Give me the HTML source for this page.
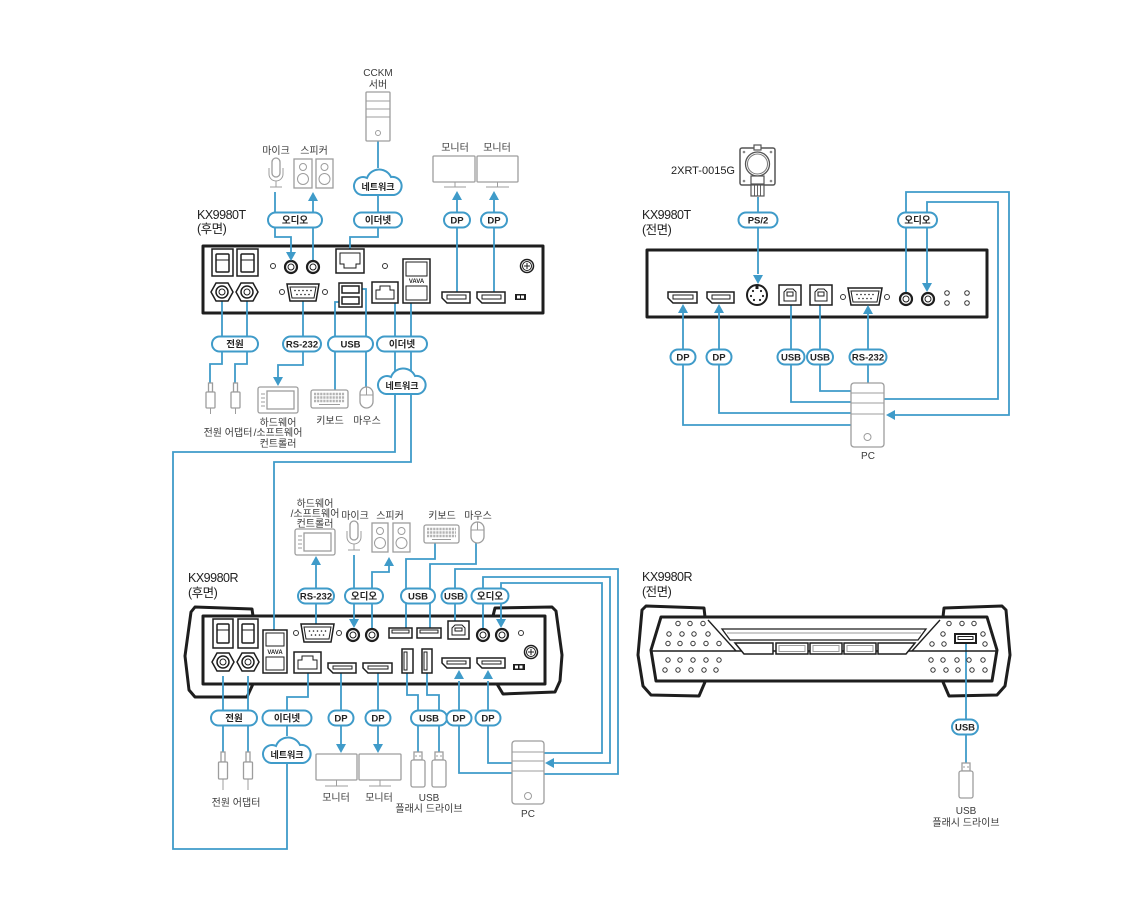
<!DOCTYPE html>
<html><head><meta charset="utf-8">
<style>
html,body{margin:0;padding:0;background:#fff;}
svg{display:block}
.b{stroke:#3f9bc9;stroke-width:1.8;fill:none}
.ah{fill:#3f9bc9;stroke:none}
.g{stroke:#9d9d9d;stroke-width:1.3;fill:#fff}
.gl{stroke:#9d9d9d;stroke-width:1;fill:none}
.kb{stroke:#b3b3b3;stroke-width:2.4;fill:none;stroke-dasharray:2.2,0.9}
.dev{stroke:#1e1e1e;stroke-width:3;fill:#fff;stroke-linejoin:round}
.d{stroke:#1e1e1e;stroke-width:1.5;fill:#fff}
.dn{stroke:#1e1e1e;stroke-width:1;fill:none}
.p{fill:#fff;stroke:#3f9bc9;stroke-width:2}
.pt{font-family:"Liberation Sans","Noto Sans CJK KR",sans-serif;font-size:9.5px;font-weight:bold;fill:#222;text-anchor:middle}
.lt{font-family:"Liberation Sans","Noto Sans CJK KR",sans-serif;font-size:10px;fill:#3a3a3a;text-anchor:middle}
.tt{font-family:"Liberation Sans","Noto Sans CJK KR",sans-serif;font-size:12.5px;fill:#222;letter-spacing:-0.5px}
.fc{fill:#fff;stroke:#333;stroke-width:1}
.jk{fill:#fff;stroke:#1e1e1e;stroke-width:2.2}
.dot{fill:#1e1e1e}
</style></head><body>
<svg width="1140" height="913" viewBox="0 0 1140 913">

<!-- ===== Device frames ===== -->
<rect class="dev" x="203" y="246" width="340" height="67"/>
<rect class="dev" x="647" y="250" width="340" height="67"/>
<path class="dev" d="M253,616 L252,609 L195,607 L191,612 L185,656 L189,690 L195,697 L247,697 L253,684"/>
<path class="dev" d="M493,616 L495,608 L552,607 L556,611 L562,655 L560,681 L555,692 L503,694 L497,684"/>
<rect class="dev" x="203" y="616" width="342" height="68"/>
<path class="dev" d="M705,617 L704,608 L646,606 L642,610 L638,655 L643,686 L651,695 L699,696 L705,682"/>
<path class="dev" d="M943,617 L944,608 L1002,606 L1006,610 L1010,655 L1005,686 L997,695 L949,696 L943,682"/>
<path class="dev" d="M661,617 H987 L997,650 L992,681 H656 L651,650 Z"/>

<!-- ===== Blue connectors ===== -->
<g class="b">
<path d="M378,141V168 M378,194V212 M378,228V237H350V249"/>
<path d="M275,192V237H291V252"/>
<path d="M313,261V200"/>
<path d="M457,292V200 M494,292V200"/>
<path d="M222,301V364H210V383 M247,301V364H235V383"/>
<path d="M303,301V365H278V377"/>
<path d="M342,302H335V390 M359,289H366V387"/>
<path d="M395,303V452H173V849H287V763 M411,303V462H274V630"/>
<path d="M758,197V274"/>
<path d="M683,313V425H851 M719,313V413H851"/>
<path d="M791,305V402H851 M820,305V391H851"/>
<path d="M868,383V314"/>
<path d="M906,293V192H1009V415H895 M927,283V202H998V399H884"/>
<path d="M316,624V565"/>
<path d="M354,555V619"/>
<path d="M372,629V572H389V566"/>
<path d="M406,628V559H435V543 M430,628V564H476V543"/>
<path d="M455,621V569H618V774H544"/>
<path d="M483,629V577H610V763H554"/>
<path d="M501,619V583H602V753H544"/>
<path d="M459,681V773H512 M488,681V763H512"/>
<path d="M223,676V752 M248,676V752"/>
<path d="M308,673V697H287V736"/>
<path d="M341,673V744 M378,673V744"/>
<path d="M407,673V695H418V752 M427,673V695H439V752"/>
<path d="M966,643V763"/>
</g>

<!-- ===== KX9980T rear ports ===== -->
<rect class="d" x="212" y="249" width="21" height="27"/><rect class="d" x="216" y="254" width="13" height="18" rx="1"/><line class="dn" x1="216" y1="260" x2="229" y2="260"/>
<rect class="d" x="237" y="249" width="21" height="27"/><rect class="d" x="241" y="254" width="13" height="18" rx="1"/><line class="dn" x1="241" y1="260" x2="254" y2="260"/>
<polygon class="d" points="211,292 216,283 228,283 233,292 228,301 216,301"/><circle class="d" cx="222" cy="292" r="6"/><circle class="dn" cx="222" cy="292" r="3"/>
<polygon class="d" points="236,292 241,283 253,283 258,292 253,301 241,301"/><circle class="d" cx="247" cy="292" r="6"/><circle class="dn" cx="247" cy="292" r="3"/>
<circle class="fc" cx="273" cy="266" r="2.5"/>
<circle class="jk" cx="291" cy="267" r="6"/><circle class="dn" cx="291" cy="267" r="3"/>
<circle class="jk" cx="313" cy="267" r="6"/><circle class="dn" cx="313" cy="267" r="3"/>
<rect class="d" x="336" y="249" width="28" height="24"/><path class="dn" d="M340,253 H360 V264 H356 V268 H344 V264 H340 Z"/>
<circle class="fc" cx="385" cy="266" r="2.5"/>
<rect class="d" x="403" y="259" width="27" height="44"/><rect class="dn" x="406" y="262" width="21" height="14"/><rect class="dn" x="406" y="286" width="21" height="14"/>
<text x="416.5" y="283" style="font:bold 6px 'Liberation Sans',sans-serif;text-anchor:middle;fill:#1e1e1e">VAVA</text>
<circle class="d" cx="527" cy="266" r="6.5"/><circle class="dn" cx="527" cy="266" r="4.5"/><path class="dn" d="M524,266H530M527,263V269"/>
<path class="d" d="M287,284 H319 L316,301 H290 Z"/><path class="dn" d="M290,287 H316 L314,298 H292 Z"/>
<g class="dot"><circle cx="295" cy="290.5" r="0.8"/><circle cx="299" cy="290.5" r="0.8"/><circle cx="303" cy="290.5" r="0.8"/><circle cx="307" cy="290.5" r="0.8"/><circle cx="311" cy="290.5" r="0.8"/><circle cx="297" cy="294.5" r="0.8"/><circle cx="301" cy="294.5" r="0.8"/><circle cx="305" cy="294.5" r="0.8"/><circle cx="309" cy="294.5" r="0.8"/></g>
<circle class="fc" cx="282" cy="292" r="2.5"/><circle class="fc" cx="325" cy="292" r="2.5"/>
<rect class="d" x="339" y="283" width="23" height="24"/><rect class="d" x="342" y="286" width="17" height="7"/><rect class="d" x="342" y="297" width="17" height="7"/>
<rect class="d" x="372" y="282" width="26" height="21"/><path class="dn" d="M376,290 H380 V286 H390 V290 H394 V299 H376 Z"/>
<path class="d" d="M442,292 H470 V303 H447 L442,298 Z"/><rect class="dn" x="447" y="295" width="19" height="4"/>
<path class="d" d="M477,292 H505 V303 H482 L477,298 Z"/><rect class="dn" x="482" y="295" width="19" height="4"/>
<rect x="515" y="294" width="11" height="6" fill="#1e1e1e"/><rect x="517" y="295.5" width="3" height="3" fill="#fff"/><rect x="521" y="295.5" width="3" height="3" fill="#fff"/>

<!-- ===== KX9980T front ports ===== -->
<path class="d" d="M668,292 H697 V303 H673 L668,298 Z"/><rect class="dn" x="673" y="295" width="20" height="4"/>
<path class="d" d="M707,292 H734 V303 H712 L707,298 Z"/><rect class="dn" x="712" y="295" width="18" height="4"/>
<circle cx="757" cy="295" r="10" fill="#fff" stroke="#1e1e1e" stroke-width="2"/>
<g class="dot"><circle cx="753" cy="291" r="1.1"/><circle cx="761" cy="291" r="1.1"/><circle cx="751" cy="296" r="1.1"/><circle cx="763" cy="296" r="1.1"/><circle cx="754" cy="300" r="1.1"/><circle cx="760" cy="300" r="1.1"/></g>
<rect x="755.5" y="286" width="3" height="3" fill="#1e1e1e"/>
<rect class="d" x="779" y="285" width="22" height="20"/><path class="dn" d="M784,301 V292 L787,289 H793 L796,292 V301 Z"/><rect class="dn" x="787" y="292" width="6" height="4"/>
<rect class="d" x="810" y="285" width="22" height="20"/><path class="dn" d="M815,301 V292 L818,289 H824 L827,292 V301 Z"/><rect class="dn" x="818" y="292" width="6" height="4"/>
<path class="d" d="M848,288 H882 L879,305 H851 Z"/><path class="dn" d="M851,291 H879 L877,302 H853 Z"/>
<g class="dot"><circle cx="857" cy="294.5" r="0.8"/><circle cx="861" cy="294.5" r="0.8"/><circle cx="865" cy="294.5" r="0.8"/><circle cx="869" cy="294.5" r="0.8"/><circle cx="873" cy="294.5" r="0.8"/><circle cx="859" cy="298.5" r="0.8"/><circle cx="863" cy="298.5" r="0.8"/><circle cx="867" cy="298.5" r="0.8"/><circle cx="871" cy="298.5" r="0.8"/></g>
<circle class="fc" cx="843" cy="297" r="2.5"/><circle class="fc" cx="887" cy="297" r="2.5"/>
<circle class="jk" cx="906" cy="299" r="6"/><circle class="dn" cx="906" cy="299" r="3"/>
<circle class="jk" cx="928" cy="299" r="6"/><circle class="dn" cx="928" cy="299" r="3"/>
<circle class="fc" cx="947" cy="293" r="2.3"/><circle class="fc" cx="947" cy="303" r="2.3"/><circle class="fc" cx="967" cy="293" r="2.3"/><circle class="fc" cx="967" cy="303" r="2.3"/>

<!-- ===== KX9980R rear ports ===== -->
<rect class="d" x="213" y="619" width="20" height="29"/><rect class="d" x="217" y="624" width="12" height="19" rx="1"/><line class="dn" x1="217" y1="630" x2="229" y2="630"/>
<rect class="d" x="238" y="619" width="20" height="29"/><rect class="d" x="242" y="624" width="12" height="19" rx="1"/><line class="dn" x1="242" y1="630" x2="254" y2="630"/>
<polygon class="d" points="212,662 217,653 229,653 234,662 229,671 217,671"/><circle class="d" cx="223" cy="662" r="6"/><circle class="dn" cx="223" cy="662" r="3"/>
<polygon class="d" points="237,662 242,653 254,653 259,662 254,671 242,671"/><circle class="d" cx="248" cy="662" r="6"/><circle class="dn" cx="248" cy="662" r="3"/>
<rect class="d" x="263" y="630" width="24" height="43"/><rect class="dn" x="266" y="633" width="18" height="13"/><rect class="dn" x="266" y="657" width="18" height="13"/>
<text x="275" y="654" style="font:bold 6px 'Liberation Sans',sans-serif;text-anchor:middle;fill:#1e1e1e">VAVA</text>
<path class="d" d="M301,624 H334 L331,642 H304 Z"/><path class="dn" d="M304,627 H331 L329,639 H306 Z"/>
<g class="dot"><circle cx="309.5" cy="631" r="0.8"/><circle cx="313.5" cy="631" r="0.8"/><circle cx="317.5" cy="631" r="0.8"/><circle cx="321.5" cy="631" r="0.8"/><circle cx="325.5" cy="631" r="0.8"/><circle cx="311.5" cy="635" r="0.8"/><circle cx="315.5" cy="635" r="0.8"/><circle cx="319.5" cy="635" r="0.8"/><circle cx="323.5" cy="635" r="0.8"/></g>
<circle class="fc" cx="296" cy="633" r="2.5"/><circle class="fc" cx="339" cy="633" r="2.5"/>
<circle class="jk" cx="353" cy="635" r="6"/><circle class="dn" cx="353" cy="635" r="3"/>
<circle class="jk" cx="372" cy="635" r="6"/><circle class="dn" cx="372" cy="635" r="3"/>
<rect class="d" x="294" y="652" width="27" height="21"/><path class="dn" d="M298,660 H302 V656 H313 V660 H317 V669 H298 Z"/>
<path class="d" d="M328,663 H356 V673 H333 L328,668 Z"/><rect class="dn" x="333" y="666" width="19" height="3"/>
<path class="d" d="M363,663 H392 V673 H368 L363,668 Z"/><rect class="dn" x="368" y="666" width="20" height="3"/>
<rect class="d" x="389" y="628" width="23" height="10"/><rect class="dn" x="392" y="630" width="17" height="3"/>
<rect class="d" x="417" y="628" width="24" height="10"/><rect class="dn" x="420" y="630" width="18" height="3"/>
<rect class="d" x="402" y="649" width="11" height="24"/><rect class="dn" x="404" y="652" width="3" height="18"/>
<rect class="d" x="422" y="649" width="10" height="24"/><rect class="dn" x="424" y="652" width="3" height="18"/>
<rect class="d" x="448" y="621" width="21" height="18"/><path class="dn" d="M452,635 V628 L455,625 H462 L465,628 V635 Z"/><rect class="dn" x="455" y="628" width="7" height="3"/>
<circle class="jk" cx="483" cy="635" r="6"/><circle class="dn" cx="483" cy="635" r="3"/>
<circle class="jk" cx="502" cy="635" r="6"/><circle class="dn" cx="502" cy="635" r="3"/>
<circle class="fc" cx="521" cy="633" r="2.5"/>
<circle class="d" cx="531" cy="652" r="6.5"/><circle class="dn" cx="531" cy="652" r="4.5"/><path class="dn" d="M528,652H534M531,649V655"/>
<path class="d" d="M442,658 H470 V668 H447 L442,663 Z"/><rect class="dn" x="447" y="661" width="19" height="3"/>
<path class="d" d="M477,658 H505 V668 H482 L477,663 Z"/><rect class="dn" x="482" y="661" width="19" height="3"/>
<rect x="513" y="664" width="12" height="6" fill="#1e1e1e"/><rect x="515" y="665.5" width="3" height="3" fill="#fff"/><rect x="519.5" y="665.5" width="3" height="3" fill="#fff"/>

<!-- ===== KX9980R front details ===== -->
<line x1="651" y1="651" x2="997" y2="651" stroke="#1e1e1e" stroke-width="1.6"/>
<line x1="708" y1="620" x2="736" y2="651" stroke="#1e1e1e" stroke-width="1.4"/>
<line x1="940" y1="620" x2="912" y2="651" stroke="#1e1e1e" stroke-width="1.4"/>
<path d="M722,629 H926 L918,640 H730 Z" fill="#fff" stroke="#1e1e1e" stroke-width="1.3"/>
<line x1="727" y1="633" x2="921" y2="633" stroke="#999" stroke-width="1"/>
<polygon class="d" points="735,643 773,643 773,654 744,654"/>
<rect class="d" x="776" y="643" width="32" height="11"/><rect class="d" x="810" y="643" width="32" height="11"/><rect class="d" x="844" y="643" width="32" height="11"/>
<polygon class="d" points="878,643 915,643 906,654 878,654"/>
<g class="gl"><rect x="779" y="645.5" width="26" height="6"/><rect x="813" y="645.5" width="26" height="6"/><rect x="847" y="645.5" width="26" height="6"/></g>
<g class="fc">
<circle cx="678" cy="623.5" r="2.2"/><circle cx="690" cy="623.5" r="2.2"/><circle cx="703" cy="623.5" r="2.2"/>
<circle cx="669" cy="634" r="2.2"/><circle cx="682" cy="634" r="2.2"/><circle cx="694" cy="634" r="2.2"/><circle cx="708" cy="634" r="2.2"/>
<circle cx="668" cy="643.5" r="2.2"/><circle cx="680" cy="643.5" r="2.2"/><circle cx="693" cy="643.5" r="2.2"/><circle cx="706" cy="643.5" r="2.2"/><circle cx="719" cy="643.5" r="2.2"/>
<circle cx="668" cy="660" r="2.2"/><circle cx="680" cy="660" r="2.2"/><circle cx="693" cy="660" r="2.2"/><circle cx="706" cy="660" r="2.2"/><circle cx="719" cy="660" r="2.2"/>
<circle cx="665" cy="670" r="2.2"/><circle cx="678" cy="670" r="2.2"/><circle cx="691" cy="670" r="2.2"/><circle cx="704" cy="670" r="2.2"/><circle cx="716" cy="670" r="2.2"/>
<circle cx="949" cy="623.5" r="2.2"/><circle cx="962" cy="623.5" r="2.2"/><circle cx="974" cy="623.5" r="2.2"/>
<circle cx="943" cy="634" r="2.2"/><circle cx="983" cy="634" r="2.2"/>
<circle cx="932" cy="644" r="2.2"/><circle cx="944" cy="644" r="2.2"/><circle cx="985" cy="644" r="2.2"/>
<circle cx="931" cy="660" r="2.2"/><circle cx="943" cy="660" r="2.2"/><circle cx="957" cy="660" r="2.2"/><circle cx="969" cy="660" r="2.2"/><circle cx="983" cy="660" r="2.2"/>
<circle cx="933" cy="670" r="2.2"/><circle cx="946" cy="670" r="2.2"/><circle cx="958" cy="670" r="2.2"/><circle cx="972" cy="670" r="2.2"/><circle cx="985" cy="670" r="2.2"/>
</g>
<rect x="955" y="634" width="21" height="9" fill="#fff" stroke="#1e1e1e" stroke-width="2"/><rect class="dn" x="958" y="636.5" width="15" height="3"/>

<!-- ===== 2XRT-0015G ===== -->
<rect x="740" y="148" width="35" height="37" rx="2" fill="#fff" stroke="#555" stroke-width="1.5"/>
<rect x="754" y="145" width="7" height="5" fill="#fff" stroke="#555" stroke-width="1.2"/>
<circle cx="757.5" cy="164" r="12" fill="#fff" stroke="#555" stroke-width="1.3"/>
<circle cx="757.5" cy="164" r="10" fill="none" stroke="#777" stroke-width="1"/>
<g fill="#888"><circle cx="744" cy="152" r="1.3"/><circle cx="771" cy="152" r="1.3"/><circle cx="744" cy="181" r="1.3"/><circle cx="771" cy="181" r="1.3"/></g>
<rect x="751" y="176" width="13" height="8" fill="#fff" stroke="#555" stroke-width="1.2"/>
<rect x="751" y="185" width="13" height="11" fill="#fff" stroke="#555" stroke-width="1.2"/>
<path d="M754.5,185V196M757.5,185V196M760.5,185V196" stroke="#555" stroke-width="0.9"/>

<!-- ===== Gray peripherals ===== -->
<rect class="g" x="366" y="92" width="24" height="49" rx="1"/>
<path class="gl" d="M366,101H390M366,109H390M366,117H390"/><circle class="gl" cx="378" cy="133" r="2.5"/>
<rect class="g" x="272" y="158" width="8" height="19" rx="4"/>
<path class="gl" d="M269,168V174A7,7 0 0 0 283,174V168M276,181V187M270,187H282" stroke-width="1.3"/>
<rect class="g" x="294" y="159" width="18" height="29"/><circle class="gl" cx="303" cy="167" r="3.5"/><circle class="gl" cx="303" cy="179" r="5.5"/>
<rect class="g" x="316" y="159" width="17" height="29"/><circle class="gl" cx="324.5" cy="167" r="3.5"/><circle class="gl" cx="324.5" cy="179" r="5.5"/>
<rect class="g" x="433" y="156" width="42" height="26" rx="1"/><path class="gl" d="M455,182V187M444,187H466" stroke-width="1.3"/>
<rect class="g" x="477" y="156" width="41" height="26" rx="1"/><path class="gl" d="M497.5,182V187M486,187H509" stroke-width="1.3"/>
<rect class="g" x="208.5" y="383" width="4" height="9"/><rect class="g" x="206" y="392" width="9" height="16" rx="1"/><line class="gl" x1="210.5" y1="408" x2="210.5" y2="414"/>
<rect class="g" x="233.5" y="383" width="4" height="9"/><rect class="g" x="231" y="392" width="9" height="16" rx="1"/><line class="gl" x1="235.5" y1="408" x2="235.5" y2="414"/>
<rect class="g" x="258" y="387" width="40" height="26" rx="2"/><rect class="g" x="267" y="391" width="27" height="18"/>
<path class="gl" d="M261,394H265M261,398H265M261,402H265M261,406H265"/>
<rect class="g" x="311" y="390" width="37" height="18" rx="2"/>
<path class="kb" d="M314,394H345M314,397.5H345M314,401H345"/><path class="gl" d="M319,404.5H340" stroke-width="1.5"/>
<rect class="g" x="360" y="387" width="13" height="21" rx="6.5"/><path class="gl" d="M366.5,387V395M360,395H373"/>
<rect class="g" x="851" y="383" width="33" height="64" rx="3"/>
<path class="gl" d="M851,393H884M851,403H884M851,414H884"/><circle class="gl" cx="867.5" cy="437" r="3.5"/>
<rect class="g" x="295" y="529" width="40" height="26" rx="2"/><rect class="g" x="304" y="533" width="27" height="18"/>
<path class="gl" d="M298,536H302M298,540H302M298,544H302M298,548H302"/>
<rect class="g" x="350" y="521" width="8" height="19" rx="4"/>
<path class="gl" d="M347,531V537A7,7 0 0 0 361,537V531M354,544V550M348,550H360" stroke-width="1.3"/>
<rect class="g" x="372" y="523" width="16" height="29"/><circle class="gl" cx="380" cy="531" r="3.5"/><circle class="gl" cx="380" cy="543" r="5.5"/>
<rect class="g" x="393" y="523" width="17" height="29"/><circle class="gl" cx="401.5" cy="531" r="3.5"/><circle class="gl" cx="401.5" cy="543" r="5.5"/>
<rect class="g" x="424" y="525" width="35" height="18" rx="2"/>
<path class="kb" d="M427,529H456M427,532.5H456M427,536H456"/><path class="gl" d="M432,539.5H451" stroke-width="1.5"/>
<rect class="g" x="471" y="522" width="13" height="21" rx="6.5"/><path class="gl" d="M477.5,522V530M471,530H484"/>
<rect class="g" x="316" y="754" width="41" height="26" rx="1"/><path class="gl" d="M336.5,780V786M325,786H348" stroke-width="1.3"/>
<rect class="g" x="359" y="754" width="42" height="26" rx="1"/><path class="gl" d="M380,780V786M369,786H391" stroke-width="1.3"/>
<rect class="g" x="221" y="752" width="4" height="10"/><rect class="g" x="218.5" y="762" width="9" height="17" rx="1"/><line class="gl" x1="223" y1="779" x2="223" y2="790"/>
<rect class="g" x="246" y="752" width="4" height="10"/><rect class="g" x="243.5" y="762" width="9" height="17" rx="1"/><line class="gl" x1="248" y1="779" x2="248" y2="790"/>
<rect class="g" x="414" y="752" width="8" height="8"/><rect class="g" x="411" y="760" width="14" height="27" rx="2"/>
<path class="gl" d="M416,755V757M420,755V757"/>
<rect class="g" x="435" y="752" width="8" height="8"/><rect class="g" x="432" y="760" width="14" height="27" rx="2"/>
<path class="gl" d="M437,755V757M441,755V757"/>
<rect class="g" x="512" y="741" width="32" height="63" rx="3"/>
<path class="gl" d="M512,752H544M512,761H544M512,771H544"/><circle class="gl" cx="528" cy="796" r="3.5"/>
<rect class="g" x="962" y="763" width="8" height="8"/><rect class="g" x="959" y="771" width="14" height="27" rx="2"/>
<path class="gl" d="M964,766V768M968,766V768"/>

<!-- ===== Clouds ===== -->
<path class="p" d="M362,195 A9,9 0 1 1 367,178 A13,13 0 0 1 391,177 A9,9 0 1 1 394,195 Z"/>
<text class="pt" x="378" y="190" style="font-size:9px">네트워크</text>
<path class="p" d="M386,394 A9,9 0 1 1 391,377 A13,13 0 0 1 415,376 A9,9 0 1 1 418,394 Z"/>
<text class="pt" x="402" y="389" style="font-size:9px">네트워크</text>
<path class="p" d="M271,763 A9,9 0 1 1 276,746 A13,13 0 0 1 300,745 A9,9 0 1 1 303,763 Z"/>
<text class="pt" x="287" y="758" style="font-size:9px">네트워크</text>

<!-- ===== Pills ===== -->
<g>
<rect class="p" x="268" y="212.5" width="54" height="15" rx="7.5"/><text class="pt" x="295" y="223.5">오디오</text>
<rect class="p" x="354" y="212.5" width="48" height="15" rx="7.5"/><text class="pt" x="378" y="223.5">이더넷</text>
<rect class="p" x="444" y="212.5" width="26" height="15" rx="7.5"/><text class="pt" x="457" y="223.5">DP</text>
<rect class="p" x="481" y="212.5" width="26" height="15" rx="7.5"/><text class="pt" x="494" y="223.5">DP</text>
<rect class="p" x="212" y="336.5" width="46" height="15" rx="7.5"/><text class="pt" x="235" y="347.5">전원</text>
<rect class="p" x="283" y="336.5" width="38" height="15" rx="7.5"/><text class="pt" x="302" y="347.5">RS-232</text>
<rect class="p" x="328" y="336.5" width="45" height="15" rx="7.5"/><text class="pt" x="350.5" y="347.5">USB</text>
<rect class="p" x="377" y="336.5" width="50" height="15" rx="7.5"/><text class="pt" x="402" y="347.5">이더넷</text>

<rect class="p" x="738.5" y="212.5" width="39" height="15" rx="7.5"/><text class="pt" x="758" y="223.5">PS/2</text>
<rect class="p" x="898" y="212.5" width="39" height="15" rx="7.5"/><text class="pt" x="917.5" y="223.5">오디오</text>
<rect class="p" x="670.5" y="349.5" width="25" height="15" rx="7.5"/><text class="pt" x="683" y="360.5">DP</text>
<rect class="p" x="706.5" y="349.5" width="25" height="15" rx="7.5"/><text class="pt" x="719" y="360.5">DP</text>
<rect class="p" x="777.5" y="349.5" width="27" height="15" rx="7.5"/><text class="pt" x="791" y="360.5">USB</text>
<rect class="p" x="807" y="349.5" width="26" height="15" rx="7.5"/><text class="pt" x="820" y="360.5">USB</text>
<rect class="p" x="849.5" y="349.5" width="37" height="15" rx="7.5"/><text class="pt" x="868" y="360.5">RS-232</text>

<rect class="p" x="298" y="588.5" width="36" height="15" rx="7.5"/><text class="pt" x="316" y="599.5">RS-232</text>
<rect class="p" x="345" y="588.5" width="38" height="15" rx="7.5"/><text class="pt" x="364" y="599.5">오디오</text>
<rect class="p" x="401" y="588.5" width="34" height="15" rx="7.5"/><text class="pt" x="418" y="599.5">USB</text>
<rect class="p" x="441.5" y="588.5" width="25" height="15" rx="7.5"/><text class="pt" x="454" y="599.5">USB</text>
<rect class="p" x="471.5" y="588.5" width="37" height="15" rx="7.5"/><text class="pt" x="490" y="599.5">오디오</text>

<rect class="p" x="211" y="710.5" width="46" height="15" rx="7.5"/><text class="pt" x="234" y="721.5">전원</text>
<rect class="p" x="262.5" y="710.5" width="49" height="15" rx="7.5"/><text class="pt" x="287" y="721.5">이더넷</text>
<rect class="p" x="328.5" y="710.5" width="25" height="15" rx="7.5"/><text class="pt" x="341" y="721.5">DP</text>
<rect class="p" x="365.5" y="710.5" width="25" height="15" rx="7.5"/><text class="pt" x="378" y="721.5">DP</text>
<rect class="p" x="411" y="710.5" width="36" height="15" rx="7.5"/><text class="pt" x="429" y="721.5">USB</text>
<rect class="p" x="446.5" y="710.5" width="25" height="15" rx="7.5"/><text class="pt" x="459" y="721.5">DP</text>
<rect class="p" x="475.5" y="710.5" width="25" height="15" rx="7.5"/><text class="pt" x="488" y="721.5">DP</text>

<rect class="p" x="952" y="719.5" width="26" height="15" rx="7.5"/><text class="pt" x="965" y="730.5">USB</text>
</g>

<!-- ===== Arrowheads ===== -->
<g class="ah">
<polygon points="313,192 308,201 318,201"/>
<polygon points="457,191 452,200 462,200"/>
<polygon points="494,191 489,200 499,200"/>
<polygon points="291,261 286,252 296,252"/>
<polygon points="278,386 273,377 283,377"/>
<polygon points="758,284 753,275 763,275"/>
<polygon points="683,304 678,313 688,313"/>
<polygon points="719,304 714,313 724,313"/>
<polygon points="868,305 863,314 873,314"/>
<polygon points="927,292 922,283 932,283"/>
<polygon points="886,415 895,410 895,420"/>
<polygon points="316,556 311,565 321,565"/>
<polygon points="354,628 349,619 359,619"/>
<polygon points="389,557 384,566 394,566"/>
<polygon points="501,628 496,619 506,619"/>
<polygon points="545,763 554,758 554,768"/>
<polygon points="459,670 454,679 464,679"/>
<polygon points="488,670 483,679 493,679"/>
<polygon points="341,753 336,744 346,744"/>
<polygon points="378,753 373,744 383,744"/>
</g>

<!-- ===== Labels ===== -->
<text class="lt" x="378" y="76">CCKM</text>
<text class="lt" x="378" y="88">서버</text>
<text class="lt" x="276" y="154">마이크</text>
<text class="lt" x="314" y="154">스피커</text>
<text class="lt" x="455" y="151">모니터</text>
<text class="lt" x="497" y="151">모니터</text>
<text class="tt" x="197" y="219">KX9980T</text>
<text class="tt" x="197" y="233">(후면)</text>
<text class="lt" x="228" y="436">전원 어댑터</text>
<text class="lt" x="278" y="426">하드웨어</text>
<text class="lt" x="278" y="436">/소프트웨어</text>
<text class="lt" x="278" y="447">컨트롤러</text>
<text class="lt" x="330" y="424">키보드</text>
<text class="lt" x="367" y="424">마우스</text>

<text class="lt" x="735" y="174" style="text-anchor:end;font-size:11px;fill:#222">2XRT-0015G</text>
<text class="tt" x="642" y="219">KX9980T</text>
<text class="tt" x="642" y="234">(전면)</text>
<text class="lt" x="868" y="459">PC</text>

<text class="lt" x="315" y="507">하드웨어</text>
<text class="lt" x="315" y="517">/소프트웨어</text>
<text class="lt" x="315" y="527">컨트롤러</text>
<text class="lt" x="355" y="519">마이크</text>
<text class="lt" x="390" y="519">스피커</text>
<text class="lt" x="442" y="519">키보드</text>
<text class="lt" x="478" y="519">마우스</text>
<text class="tt" x="188" y="582">KX9980R</text>
<text class="tt" x="188" y="597">(후면)</text>
<text class="lt" x="236" y="806">전원 어댑터</text>
<text class="lt" x="336" y="801">모니터</text>
<text class="lt" x="379" y="801">모니터</text>
<text class="lt" x="429" y="801">USB</text>
<text class="lt" x="429" y="812">플래시 드라이브</text>
<text class="lt" x="528" y="817">PC</text>

<text class="tt" x="642" y="581">KX9980R</text>
<text class="tt" x="642" y="596">(전면)</text>
<text class="lt" x="966" y="814">USB</text>
<text class="lt" x="966" y="826">플래시 드라이브</text>
</svg>
</body></html>
